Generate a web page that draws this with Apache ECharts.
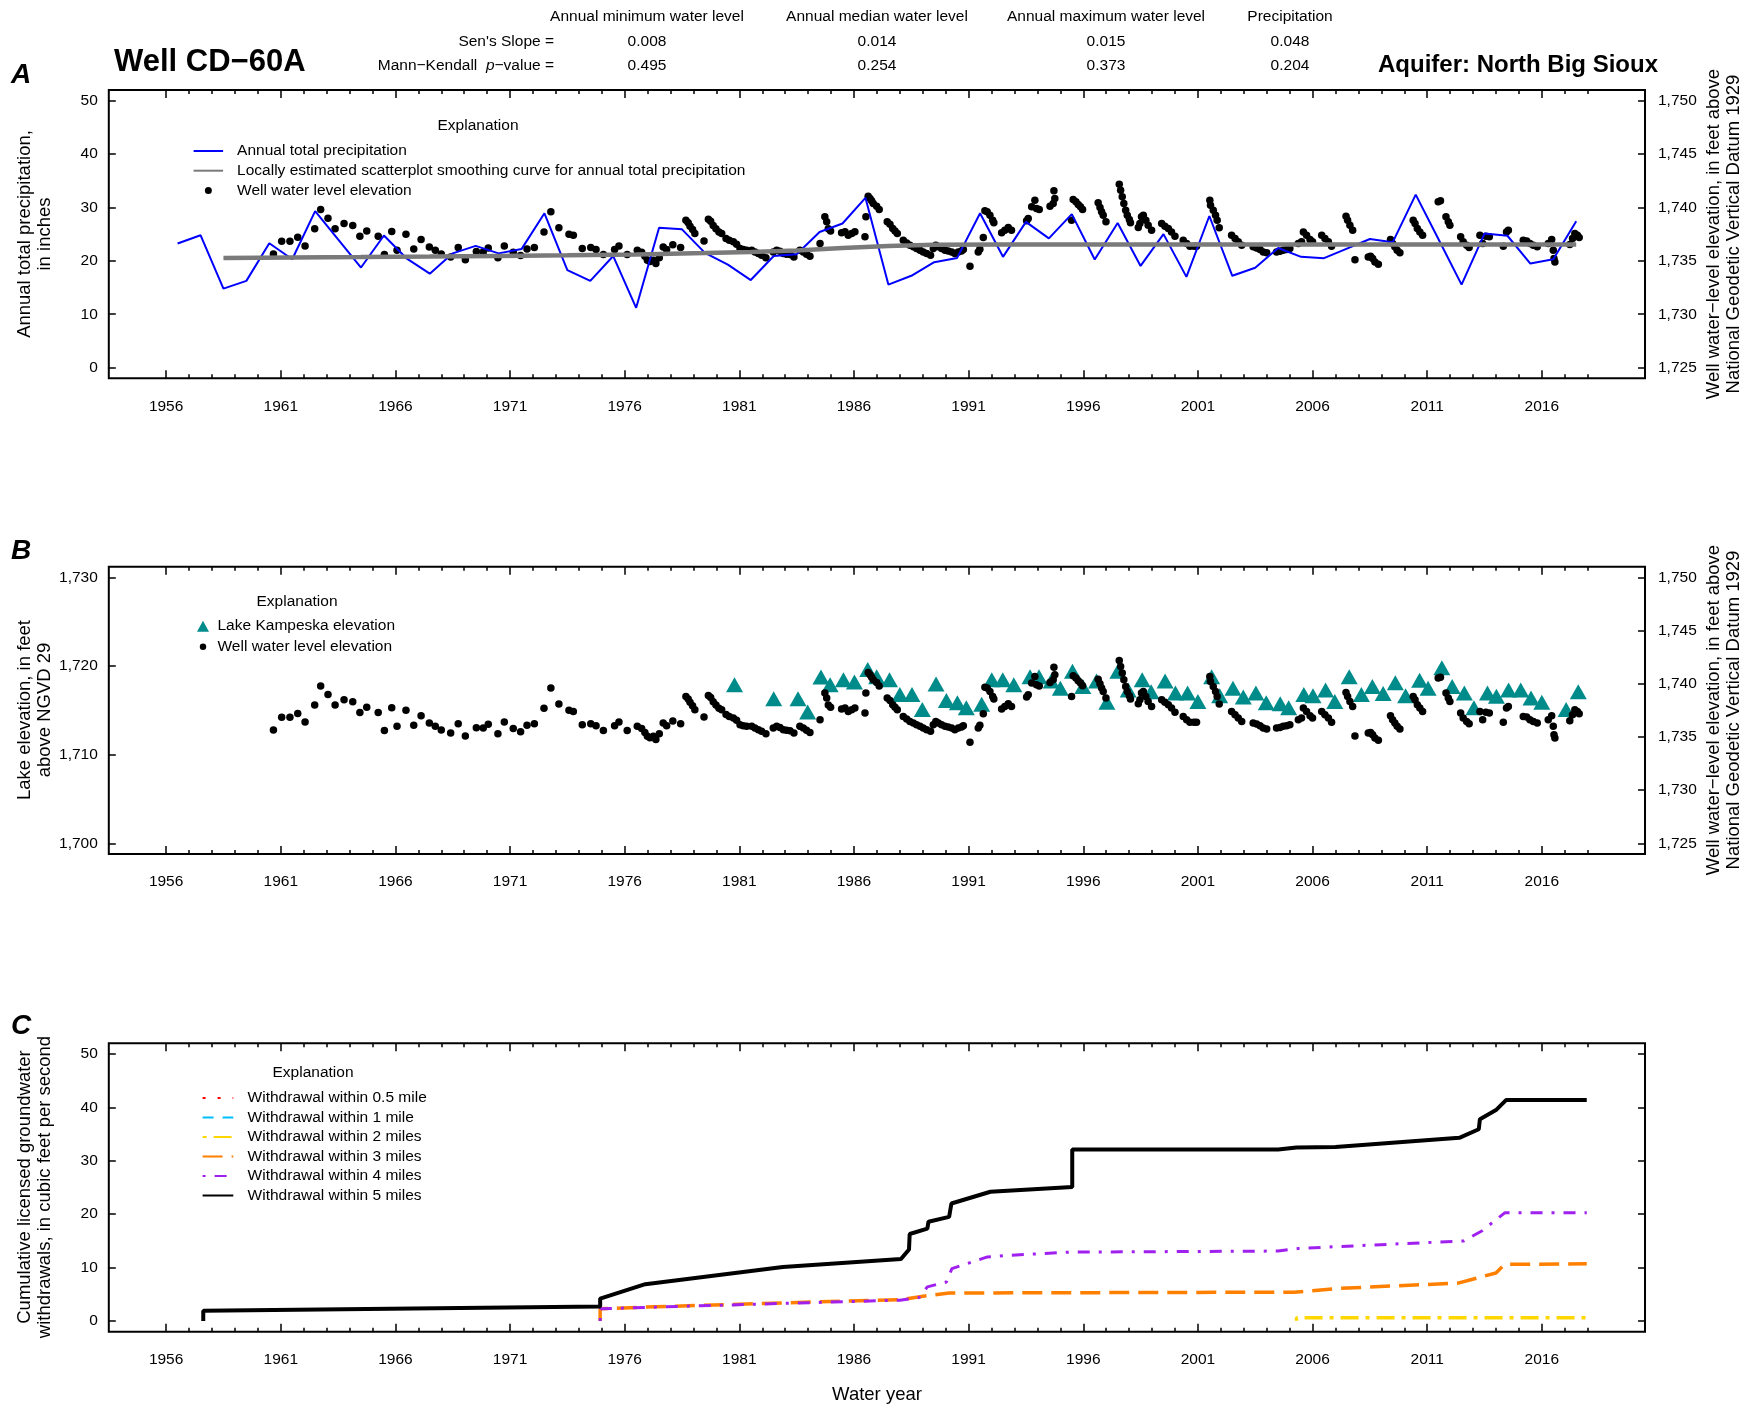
<!DOCTYPE html>
<html>
<head>
<meta charset="utf-8">
<title>Well CD-60A</title>
<script src="https://cdn.jsdelivr.net/npm/echarts@6/dist/echarts.min.js"></script>
<style>
  html, body { margin: 0; padding: 0; background: #fff; }
  #chart { width: 1758px; height: 1408px; }
</style>
</head>
<body>
<div id="chart"></div>
<script>
// values

// panel A : annual total precipitation (inches), plotted at mid water year
const precipYears = [1956, 1957, 1958, 1959, 1960, 1961, 1962, 1963, 1964, 1965, 1966, 1967, 1968, 1969, 1970,
  1971, 1972, 1973, 1974, 1975, 1976, 1977, 1978, 1979, 1980, 1981, 1982, 1983, 1984, 1985, 1986, 1987, 1988,
  1989, 1990, 1991, 1992, 1993, 1994, 1995, 1996, 1997, 1998, 1999, 2000, 2001, 2002, 2003, 2004, 2005, 2006,
  2007, 2008, 2009, 2010, 2011, 2012, 2013, 2014, 2015, 2016, 2017];
const precipInches = [23.25, 24.8, 14.8, 16.25, 23.3, 20.3, 29.3, 24.0, 18.75, 24.75, 20.4, 17.6, 21.4, 22.8, 21.4,
  22.2, 28.9, 18.25, 16.25, 20.9, 11.2, 26.2, 25.9, 21.5, 19.3, 16.4, 20.9, 21.25, 25.4, 27.0, 31.8, 15.55, 17.2,
  19.75, 20.55, 28.9, 20.75, 27.3, 24.2, 28.75, 20.25, 27.1, 19.05, 25.0, 17.0, 28.4, 17.2, 18.7, 22.4, 20.75, 20.5,
  22.3, 24.1, 23.5, 32.4, 24.0, 15.55, 25.1, 24.7, 19.5, 20.3, 27.4];

// loess smoothing curve of precipitation
const loessYears = [1958.5, 1961.5, 1964.5, 1967.5, 1970.5, 1973.5, 1976.5, 1979.5, 1981.5, 1983.5, 1985.5,
  1987.5, 1989.5, 1992.5, 1997.5, 2002.5, 2007.5, 2012.5, 2017.5];
const loessInches = [20.55, 20.62, 20.7, 20.8, 20.92, 21.05, 21.2, 21.45, 21.65, 21.95, 22.4, 22.8, 23.0, 23.05,
  23.05, 23.05, 23.05, 23.05, 23.05];

// well water level elevation [year, feet]
const wellLevels = [
  [1960.68, 1735.65], [1961.04, 1736.84], [1961.40, 1736.84], [1961.74, 1737.20], [1962.06, 1736.40],
  [1962.48, 1738.00], [1962.74, 1739.80], [1963.06, 1739.00], [1963.37, 1738.00], [1963.76, 1738.50],
  [1964.14, 1738.30], [1964.45, 1737.30], [1964.75, 1737.80], [1965.25, 1737.30], [1965.52, 1735.60],
  [1965.84, 1737.75], [1966.07, 1736.00], [1966.46, 1737.50], [1966.80, 1736.10], [1967.12, 1737.00],
  [1967.48, 1736.30], [1967.74, 1736.00], [1968.00, 1735.65], [1968.41, 1735.37], [1968.74, 1736.25],
  [1969.05, 1735.10], [1969.53, 1735.87], [1969.83, 1735.84], [1970.05, 1736.20], [1970.47, 1735.30],
  [1970.75, 1736.40], [1971.14, 1735.80], [1971.46, 1735.50], [1971.74, 1736.10], [1972.06, 1736.25],
  [1972.48, 1737.70], [1972.78, 1739.60], [1973.13, 1738.10], [1973.57, 1737.50], [1973.76, 1737.40],
  [1974.15, 1736.15], [1974.52, 1736.25], [1974.75, 1736.06], [1975.07, 1735.60], [1975.56, 1736.06],
  [1975.75, 1736.40], [1976.11, 1735.60], [1976.55, 1736.00], [1976.74, 1735.80], [1976.88, 1735.43],
  [1976.99, 1735.06], [1977.10, 1734.93], [1977.25, 1735.06], [1977.36, 1734.75], [1977.51, 1735.30],
  [1977.68, 1736.30], [1977.83, 1736.06], [1978.10, 1736.50], [1978.44, 1736.25], [1978.67, 1738.80],
  [1978.77, 1738.56], [1978.85, 1738.25], [1978.96, 1737.93], [1979.06, 1737.56], [1979.46, 1736.87],
  [1979.65, 1738.90], [1979.75, 1738.70], [1979.86, 1738.30], [1979.98, 1738.00], [1980.11, 1737.70],
  [1980.23, 1737.56], [1980.42, 1737.10], [1980.56, 1736.93], [1980.74, 1736.78], [1980.88, 1736.56],
  [1981.03, 1736.15], [1981.17, 1736.06], [1981.32, 1736.00], [1981.54, 1736.00], [1981.68, 1735.84],
  [1981.83, 1735.68], [1981.97, 1735.53], [1982.16, 1735.30], [1982.48, 1735.84], [1982.63, 1736.00],
  [1982.77, 1735.90], [1982.92, 1735.68], [1983.06, 1735.62], [1983.21, 1735.59], [1983.38, 1735.37],
  [1983.64, 1736.00], [1983.79, 1735.84], [1983.93, 1735.62], [1984.08, 1735.43], [1984.52, 1736.62],
  [1984.73, 1739.12], [1984.81, 1738.65], [1984.88, 1738.00], [1984.98, 1737.80], [1985.46, 1737.62],
  [1985.61, 1737.72], [1985.75, 1737.40], [1985.90, 1737.56], [1986.04, 1737.72], [1986.48, 1737.25],
  [1986.52, 1739.12], [1986.62, 1741.06], [1986.70, 1740.84], [1986.77, 1740.62], [1986.84, 1740.37],
  [1986.99, 1740.12], [1987.10, 1739.80], [1987.45, 1738.65], [1987.57, 1738.43], [1987.69, 1738.03],
  [1987.79, 1737.80], [1987.89, 1737.56], [1988.15, 1736.93], [1988.30, 1736.68], [1988.44, 1736.46],
  [1988.59, 1736.31], [1988.73, 1736.15], [1988.88, 1736.00], [1989.02, 1735.84], [1989.17, 1735.68],
  [1989.34, 1735.53], [1989.46, 1736.15], [1989.57, 1736.46], [1989.68, 1736.31], [1989.82, 1736.15],
  [1989.97, 1736.00], [1990.11, 1735.93], [1990.26, 1735.84], [1990.40, 1735.68], [1990.55, 1735.84],
  [1990.69, 1735.93], [1990.77, 1736.06], [1991.06, 1734.50], [1991.42, 1735.84], [1991.49, 1736.09],
  [1991.64, 1737.18], [1991.71, 1739.68], [1991.81, 1739.59], [1991.93, 1739.28], [1992.05, 1738.81],
  [1992.10, 1738.56], [1992.44, 1737.62], [1992.58, 1737.87], [1992.73, 1738.12], [1992.87, 1737.87],
  [1993.53, 1738.75], [1993.60, 1738.96], [1993.75, 1740.06], [1993.89, 1740.68], [1993.96, 1739.90],
  [1994.08, 1739.80], [1994.55, 1740.12], [1994.69, 1740.37], [1994.72, 1741.56], [1994.76, 1740.84],
  [1995.49, 1738.81], [1995.56, 1740.75], [1995.68, 1740.53], [1995.78, 1740.28], [1995.88, 1740.06],
  [1995.97, 1739.81], [1996.65, 1740.43], [1996.73, 1740.00], [1996.80, 1739.59], [1996.87, 1739.28],
  [1996.99, 1738.65], [1997.57, 1742.18], [1997.63, 1741.62], [1997.70, 1741.00], [1997.77, 1740.37],
  [1997.85, 1739.75], [1997.92, 1739.28], [1998.01, 1738.87], [1998.06, 1738.56], [1998.40, 1738.12],
  [1998.47, 1738.50], [1998.54, 1739.12], [1998.62, 1739.28], [1998.73, 1738.81], [1998.83, 1738.34],
  [1998.98, 1737.87], [1999.42, 1738.50], [1999.56, 1738.25], [1999.71, 1738.03], [1999.85, 1737.71],
  [2000.00, 1737.31], [2000.36, 1736.93], [2000.51, 1736.62], [2000.65, 1736.37], [2000.83, 1736.37],
  [2000.94, 1736.37], [2001.52, 1740.68], [2001.55, 1740.21], [2001.67, 1739.75], [2001.77, 1739.28],
  [2001.84, 1738.81], [2001.93, 1738.09], [2002.47, 1737.40], [2002.62, 1737.09], [2002.76, 1736.78],
  [2002.91, 1736.46], [2003.41, 1736.31], [2003.56, 1736.21], [2003.71, 1736.06], [2003.85, 1735.84],
  [2004.00, 1735.75], [2004.43, 1735.84], [2004.58, 1735.90], [2004.72, 1736.00], [2004.87, 1736.06],
  [2005.01, 1736.15], [2005.38, 1736.62], [2005.52, 1736.78], [2005.60, 1737.71], [2005.74, 1737.40],
  [2005.89, 1737.00], [2006.00, 1736.78], [2006.40, 1737.40], [2006.54, 1737.09], [2006.69, 1736.78],
  [2006.83, 1736.37], [2007.46, 1739.18], [2007.53, 1738.81], [2007.63, 1738.34], [2007.75, 1737.87],
  [2007.85, 1735.10], [2008.43, 1735.37], [2008.53, 1735.43], [2008.62, 1735.21], [2008.72, 1734.90],
  [2008.87, 1734.68], [2009.40, 1737.00], [2009.49, 1736.62], [2009.59, 1736.31], [2009.69, 1736.00],
  [2009.81, 1735.75], [2010.39, 1738.81], [2010.47, 1738.50], [2010.57, 1738.03], [2010.68, 1737.71],
  [2010.80, 1737.40], [2011.48, 1740.53], [2011.58, 1740.62], [2011.82, 1739.12], [2011.92, 1738.65],
  [2011.99, 1738.34], [2012.46, 1737.25], [2012.57, 1736.78], [2012.72, 1736.46], [2012.83, 1736.25],
  [2013.30, 1737.40], [2013.42, 1736.62], [2013.56, 1737.31], [2013.71, 1737.25], [2014.32, 1736.37],
  [2014.46, 1737.71], [2014.54, 1737.87], [2015.19, 1736.93], [2015.34, 1736.87], [2015.48, 1736.62],
  [2015.63, 1736.46], [2015.80, 1736.31], [2016.28, 1736.62], [2016.43, 1737.00], [2016.50, 1736.00],
  [2016.53, 1735.21], [2016.57, 1734.90], [2017.22, 1736.53], [2017.34, 1737.09], [2017.44, 1737.56],
  [2017.55, 1737.40], [2017.63, 1737.18]
];

// panel B : Lake Kampeska elevation [year, feet NGVD 29]
const lakeLevels = [
  [1980.79, 1717.9], [1982.50, 1716.3], [1983.56, 1716.3], [1983.98, 1714.8], [1984.56, 1718.75],
  [1984.96, 1717.9], [1985.54, 1718.45], [1986.02, 1718.2], [1986.60, 1719.6], [1986.99, 1718.8],
  [1987.55, 1718.45], [1988.00, 1716.8], [1988.53, 1716.8], [1988.98, 1715.1], [1989.58, 1717.97],
  [1990.03, 1716.1], [1990.51, 1715.85], [1990.90, 1715.3], [1991.57, 1715.7], [1992.01, 1718.45],
  [1992.49, 1718.45], [1992.97, 1717.9], [1993.68, 1718.8], [1994.07, 1718.8], [1994.60, 1718.3],
  [1995.00, 1717.5], [1995.53, 1719.4], [1995.98, 1717.7], [1996.58, 1718.3], [1997.03, 1715.9],
  [1997.51, 1719.4], [1997.96, 1717.3], [1998.57, 1718.45], [1998.96, 1717.1], [1999.57, 1718.3],
  [2000.02, 1716.95], [2000.55, 1716.95], [2001.00, 1716.0], [2001.60, 1718.8], [2001.95, 1716.65],
  [2002.53, 1717.5], [2002.98, 1716.5], [2003.53, 1716.95], [2003.98, 1715.85], [2004.59, 1715.75],
  [2004.96, 1715.3], [2005.62, 1716.8], [2006.02, 1716.65], [2006.57, 1717.3], [2006.97, 1716.0],
  [2007.60, 1718.8], [2008.13, 1716.8], [2008.61, 1717.7], [2009.08, 1716.9], [2009.61, 1718.1],
  [2010.06, 1716.65], [2010.67, 1718.4], [2011.04, 1717.5], [2011.64, 1719.8], [2012.09, 1717.7],
  [2012.62, 1716.95], [2013.04, 1715.3], [2013.63, 1716.95], [2014.02, 1716.6], [2014.55, 1717.3],
  [2015.08, 1717.3], [2015.53, 1716.4], [2016.00, 1715.9], [2017.06, 1715.1], [2017.59, 1717.1]
];

// panel C : cumulative licensed withdrawals (ft3/s) [year, value]
const within05 = [];
const within1 = [];
const within2 = [[2005.3, 0.05], [2005.3, 0.6], [2017.96, 0.6]];
const within3 = [[1974.93, 0], [1974.93, 2.3], [1976.9, 2.6], [1982.9, 3.4], [1988.0, 4.0], [1988.95, 4.6],
  [1990.15, 5.25], [2005.2, 5.4], [2007.1, 6.1], [2012.35, 7.1], [2014.0, 9.0], [2014.38, 10.6], [2017.96, 10.7]];
const within4 = [[1974.93, 0], [1974.93, 2.3], [1982.9, 3.3], [1988.0, 3.9], [1988.84, 4.4], [1989.2, 6.4],
  [1990.03, 7.3], [1990.27, 9.8], [1991.82, 12.0], [1992.78, 12.3], [1995.4, 12.9], [2004.5, 13.1],
  [2005.4, 13.6], [2012.6, 15.0], [2013.4, 16.9], [2014.38, 20.25], [2017.96, 20.25]];
const within5 = [[1957.62, 0], [1957.62, 1.9], [1974.93, 2.7], [1974.93, 4.2], [1976.9, 6.9], [1982.9, 10.1],
  [1988.05, 11.6], [1988.4, 13.4], [1988.43, 16.3], [1989.2, 17.3], [1989.25, 18.6], [1990.15, 19.5],
  [1990.25, 22.0], [1991.95, 24.2], [1995.52, 25.1], [1995.52, 32.1], [2004.5, 32.1], [2005.3, 32.5],
  [2007.0, 32.6], [2012.4, 34.3], [2013.25, 35.9], [2013.3, 37.8], [2014.0, 39.5], [2014.45, 41.4],
  [2017.96, 41.4]];

// trend statistics
const statColumns = ['Annual minimum water level', 'Annual median water level', 'Annual maximum water level', 'Precipitation'];
const sensSlope = ['0.008', '0.014', '0.015', '0.048'];
const mkPValue = ['0.495', '0.254', '0.373', '0.204'];

// tick values
const majorYears = [1956, 1961, 1966, 1971, 1976, 1981, 1986, 1991, 1996, 2001, 2006, 2011, 2016];
const minorYears = [1956, 1957, 1958, 1959, 1960, 1961, 1962, 1963, 1964, 1965, 1966, 1967, 1968, 1969, 1970,
  1971, 1972, 1973, 1974, 1975, 1976, 1977, 1978, 1979, 1980, 1981, 1982, 1983, 1984, 1985, 1986, 1987, 1988,
  1989, 1990, 1991, 1992, 1993, 1994, 1995, 1996, 1997, 1998, 1999, 2000, 2001, 2002, 2003, 2004, 2005, 2006,
  2007, 2008, 2009, 2010, 2011, 2012, 2013, 2014, 2015, 2016, 2017, 2018];
const inchTicks = [0, 10, 20, 30, 40, 50];
const wellTicks = [1725, 1730, 1735, 1740, 1745, 1750];
const lakeTicks = [1700, 1710, 1720, 1730];
const flowTicks = [0, 10, 20, 30, 40, 50];

const FONT = "'Liberation Sans', Arial, Helvetica, sans-serif";
const X_MIN = 1953.5, X_MAX = 2020.5;
const gridBoxes = [
  { left: 108.8, top: 90, width: 1536.2, height: 288.3 },
  { left: 108.8, top: 566.7, width: 1536.2, height: 287.3 },
  { left: 108.8, top: 1043.3, width: 1536.2, height: 288.4 }
];

function commas(v) {
  return String(v).replace(/\B(?=(\d{3})+(?!\d))/g, ',');
}

function xAxesFor(g) {
  const tick = (vals, len) => ({
    show: true, inside: true, length: len, customValues: vals,
    lineStyle: { color: '#000', width: 1.5 }
  });
  const base = {
    gridIndex: g, type: 'value', min: X_MIN, max: X_MAX,
    axisLine: { show: false, onZero: false }, splitLine: { show: false }
  };
  return [
    Object.assign({}, base, {
      position: 'bottom', axisTick: tick(majorYears, 8),
      axisLabel: { customValues: majorYears, margin: 20, formatter: v => String(v),
        color: '#000', fontSize: 15.5, fontFamily: FONT }
    }),
    Object.assign({}, base, { position: 'bottom', axisTick: tick(minorYears, 4), axisLabel: { show: false } }),
    Object.assign({}, base, { position: 'top', axisTick: tick(majorYears, 8), axisLabel: { show: false } }),
    Object.assign({}, base, { position: 'top', axisTick: tick(minorYears, 4), axisLabel: { show: false } })
  ];
}

function yAxisFor(g, pos, min, max, ticks, labelled) {
  return {
    gridIndex: g, type: 'value', position: pos, min: min, max: max,
    axisLine: { show: false, onZero: false }, splitLine: { show: false },
    axisTick: { show: true, inside: true, length: 7, customValues: ticks,
      lineStyle: { color: '#000', width: 1.5 } },
    axisLabel: { show: labelled, customValues: ticks, margin: pos === 'left' ? 11 : 13,
      formatter: commas, color: '#000', fontSize: 15.5, fontFamily: FONT }
  };
}

function txt(text, x, y, o) {
  o = o || {};
  return {
    type: 'text', x: x, y: y, rotation: o.rotation || 0, silent: true,
    style: {
      text: text, fill: '#000', fontFamily: FONT,
      fontSize: o.size || 15.5, fontWeight: o.weight || 'normal', fontStyle: o.style || 'normal',
      align: o.align || 'center', verticalAlign: 'middle',
      textAlign: o.align || 'center', textVerticalAlign: 'middle',
      lineHeight: o.lineHeight, rich: o.rich
    }
  };
}

const colX = [647, 877, 1106, 1290];
const graphics = [
  txt('A', 21, 75, { size: 28, weight: 'bold', style: 'italic' }),
  txt('B', 21, 551, { size: 28, weight: 'bold', style: 'italic' }),
  txt('C', 21, 1026, { size: 28, weight: 'bold', style: 'italic' }),
  txt('Well CD\u221260A', 114, 62, { size: 31, weight: 'bold', align: 'left' }),
  txt('Aquifer: North Big Sioux', 1658, 65, { size: 24, weight: 'bold', align: 'right' }),
  txt("Sen's Slope =", 554, 41.5, { align: 'right' }),
  txt('Mann\u2212Kendall  {i|p}\u2212value =', 554, 66, { align: 'right',
    rich: { i: { fontStyle: 'italic', fontSize: 15.5, fontFamily: FONT, fill: '#000' } } }),
  txt('Explanation', 478, 126),
  txt('Explanation', 297, 602),
  txt('Explanation', 313, 1073),
  txt('Annual total precipitation,\nin inches', 35, 234, { size: 18.5, rotation: Math.PI / 2, lineHeight: 20.5 }),
  txt('Well water\u2212level elevation, in feet above\nNational Geodetic Vertical Datum 1929', 1724, 234,
    { size: 18.5, rotation: Math.PI / 2, lineHeight: 20.5 }),
  txt('Lake elevation, in feet\nabove NGVD 29', 35, 710, { size: 18.5, rotation: Math.PI / 2, lineHeight: 20.5 }),
  txt('Well water\u2212level elevation, in feet above\nNational Geodetic Vertical Datum 1929', 1724, 710,
    { size: 18.5, rotation: Math.PI / 2, lineHeight: 20.5 }),
  txt('Cumulative licensed groundwater\nwithdrawals, in cubic feet per second', 35, 1187,
    { size: 18.5, rotation: Math.PI / 2, lineHeight: 20.5 }),
  txt('Water year', 877, 1395, { size: 18.5 })
];
statColumns.forEach((name, i) => {
  graphics.push(txt(name, colX[i], 17));
  graphics.push(txt(sensSlope[i], colX[i], 41.5));
  graphics.push(txt(mkPValue[i], colX[i], 66));
});

const legendText = { color: '#000', fontSize: 15.5, fontFamily: FONT };
const DOT_ICON = 'path://M0,0M12,12M2.5,6A3.5,3.5,0,1,1,9.5,6A3.5,3.5,0,1,1,2.5,6Z';
// line-series legend entries: keep the line swatch, hide the marker drawn in its middle
const lineItem = name => ({ name: name, itemStyle: { opacity: 0 } });

const chart = echarts.init(document.getElementById('chart'), null, { renderer: 'canvas' });

chart.setOption({
  animation: false,
  backgroundColor: '#fff',
  grid: gridBoxes.map(b => Object.assign({
    show: true, borderColor: '#000', borderWidth: 2, backgroundColor: 'transparent',
    containLabel: false, outerBoundsMode: 'none'
  }, b)),
  xAxis: [].concat(xAxesFor(0), xAxesFor(1), xAxesFor(2)),
  yAxis: [
    yAxisFor(0, 'left', -2, 52, inchTicks, true),
    yAxisFor(0, 'right', 1724, 1751, wellTicks, true),
    yAxisFor(1, 'left', 1698.8, 1731.2, lakeTicks, true),
    yAxisFor(1, 'right', 1724, 1751, wellTicks, true),
    yAxisFor(2, 'left', -2, 52, flowTicks, true),
    yAxisFor(2, 'right', -2, 52, flowTicks, false)
  ],
  legend: [
    {
      orient: 'vertical', left: 192.6, top: 143, padding: 0, itemGap: 3.7,
      itemWidth: 29.5, itemHeight: 7, selectedMode: false,
      textStyle: Object.assign({ padding: [0, 0, 0, 9] }, legendText),
      data: [lineItem('Annual total precipitation'),
        lineItem('Locally estimated scatterplot smoothing curve for annual total precipitation'),
        { name: 'Well water level elevation', icon: 'circle' }]
    },
    {
      orient: 'vertical', left: 197, top: 618.2, padding: 0, itemGap: 4.5,
      itemWidth: 12, itemHeight: 11, selectedMode: false,
      textStyle: Object.assign({ padding: [0, 0, 0, 3.5] }, legendText),
      data: [{ name: 'Lake Kampeska elevation', icon: 'triangle' },
        { name: 'Well water level elevation', icon: DOT_ICON }]
    },
    {
      orient: 'vertical', left: 201.6, top: 1090, padding: 0, itemGap: 3.5,
      itemWidth: 30.7, itemHeight: 8, selectedMode: false,
      textStyle: Object.assign({ padding: [0, 0, 0, 9.3] }, legendText),
      data: [lineItem('Withdrawal within 0.5 mile'), lineItem('Withdrawal within 1 mile'),
        lineItem('Withdrawal within 2 miles'), lineItem('Withdrawal within 3 miles'),
        lineItem('Withdrawal within 4 miles'), lineItem('Withdrawal within 5 miles')]
    }
  ],
  graphic: graphics,
  series: [
    {
      name: 'Annual total precipitation', type: 'line', xAxisIndex: 0, yAxisIndex: 0,
      data: precipYears.map((y, i) => [y + 0.5, precipInches[i]]),
      symbol: 'none', lineStyle: { color: '#0000ff', width: 2 }, itemStyle: { color: '#0000ff' }
    },
    {
      name: 'Locally estimated scatterplot smoothing curve for annual total precipitation',
      type: 'line', xAxisIndex: 0, yAxisIndex: 0,
      data: loessYears.map((y, i) => [y, loessInches[i]]),
      symbol: 'none', lineStyle: { color: '#7a7a7a', width: 4.5 }, itemStyle: { color: '#7a7a7a' }
    },
    {
      name: 'Well water level elevation', type: 'scatter', xAxisIndex: 0, yAxisIndex: 1,
      data: wellLevels, symbol: 'circle', symbolSize: 7.5, itemStyle: { color: '#000', opacity: 1 }
    },
    {
      name: 'Lake Kampeska elevation', type: 'scatter', xAxisIndex: 4, yAxisIndex: 2,
      data: lakeLevels, symbol: 'triangle', symbolSize: [17, 15], itemStyle: { color: '#008b8b', opacity: 1 }
    },
    {
      name: 'Well water level elevation', type: 'scatter', xAxisIndex: 4, yAxisIndex: 3,
      data: wellLevels, symbol: 'circle', symbolSize: 7.5, itemStyle: { color: '#000', opacity: 1 }
    },
    {
      name: 'Withdrawal within 0.5 mile', type: 'line', xAxisIndex: 8, yAxisIndex: 4, data: within05,
      symbol: 'none', lineStyle: { color: '#ff0000', width: 3, type: [3, 12] }, itemStyle: { color: '#ff0000' }
    },
    {
      name: 'Withdrawal within 1 mile', type: 'line', xAxisIndex: 8, yAxisIndex: 4, data: within1,
      symbol: 'none', lineStyle: { color: '#00bfff', width: 3, type: [11, 9] }, itemStyle: { color: '#00bfff' }
    },
    {
      name: 'Withdrawal within 2 miles', type: 'line', xAxisIndex: 8, yAxisIndex: 4, data: within2,
      symbol: 'none', lineStyle: { color: '#ffd700', width: 3.5, type: [4, 7, 18, 7] }, itemStyle: { color: '#ffd700' }
    },
    {
      name: 'Withdrawal within 3 miles', type: 'line', xAxisIndex: 8, yAxisIndex: 4, data: within3,
      symbol: 'none', lineStyle: { color: '#ff7f00', width: 3.5, type: [20, 9] }, itemStyle: { color: '#ff7f00' }
    },
    {
      name: 'Withdrawal within 4 miles', type: 'line', xAxisIndex: 8, yAxisIndex: 4, data: within4,
      symbol: 'none', lineStyle: { color: '#a020f0', width: 3, type: [3, 9, 12, 9] }, itemStyle: { color: '#a020f0' }
    },
    {
      name: 'Withdrawal within 5 miles', type: 'line', xAxisIndex: 8, yAxisIndex: 4, data: within5,
      symbol: 'none', lineStyle: { color: '#000', width: 4 }, itemStyle: { color: '#000' }
    }
  ]
});
</script>
</body>
</html>
